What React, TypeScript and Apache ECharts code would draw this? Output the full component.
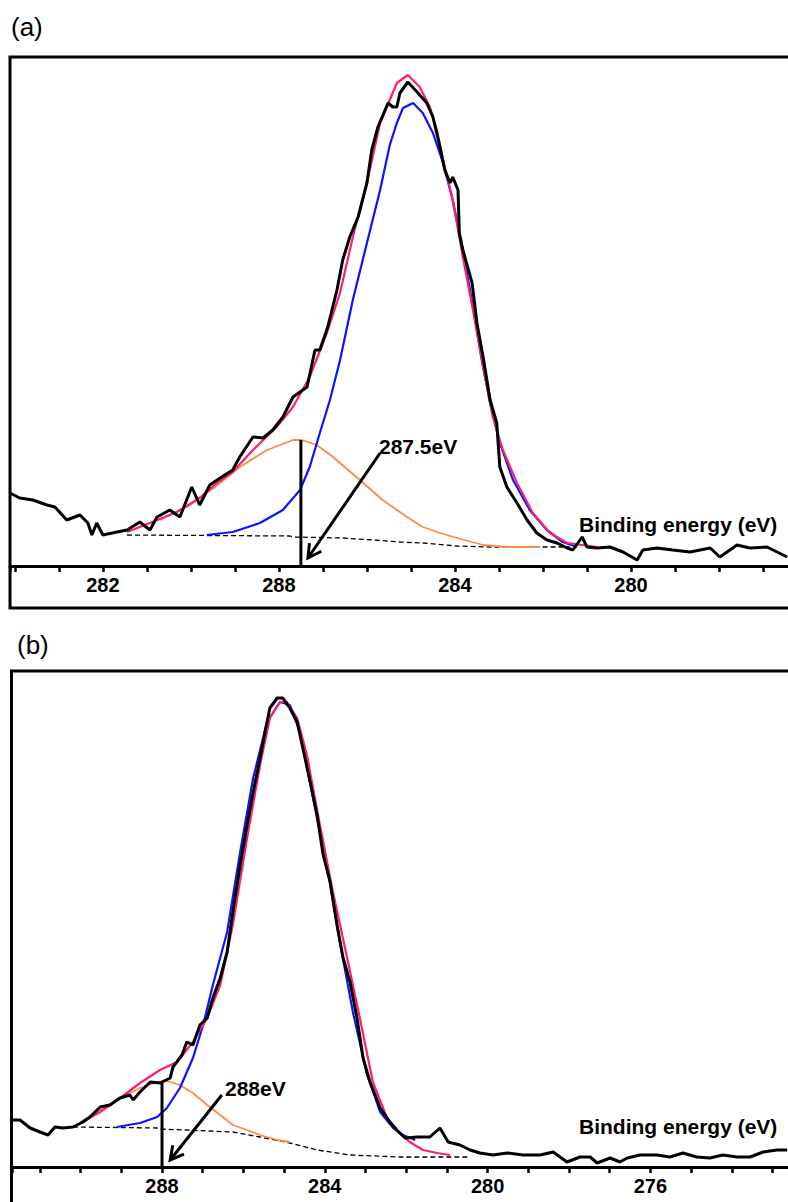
import { useEffect, useRef } from "react";
import * as echarts from "echarts";

// ---------- Panel (a) data : [binding energy (eV), intensity (a.u.)] ----------
const spectrumA: [number, number][] = [
  [294.11, 73], [293.89, 68], [293.59, 66], [293.27, 61], [293.09, 59], [292.82, 46],
  [292.52, 51], [292.34, 43], [292.25, 31], [292.14, 43], [292.0, 31], [291.68, 34],
  [291.45, 36], [291.16, 44], [290.93, 36], [290.77, 49], [290.48, 56], [290.25, 49],
  [289.98, 79], [289.8, 61], [289.57, 81], [289.3, 89], [289.05, 96], [288.89, 109],
  [288.59, 129], [288.36, 128], [288.14, 136], [287.91, 149], [287.68, 169], [287.36, 179],
  [287.18, 216], [287.07, 216], [286.89, 239], [286.68, 276], [286.55, 306], [286.39, 329],
  [286.2, 349], [286.0, 383], [285.89, 416], [285.75, 439], [285.52, 463], [285.41, 459],
  [285.32, 459], [285.25, 473], [285.07, 484], [284.86, 474], [284.64, 463], [284.5, 449],
  [284.34, 419], [284.23, 396], [284.11, 383], [284.05, 389], [283.93, 376], [283.9, 333],
  [283.82, 316], [283.61, 283], [283.5, 243], [283.36, 209], [283.2, 166], [283.05, 143],
  [282.98, 99], [282.82, 79], [282.59, 63], [282.36, 46], [282.14, 33], [281.91, 26],
  [281.68, 23], [281.45, 18], [281.32, 16], [281.11, 29], [281.0, 19], [280.77, 18],
  [280.48, 19], [280.18, 14], [279.86, 6], [279.73, 16], [279.41, 18], [279.05, 16],
  [278.66, 14], [278.2, 18], [277.98, 9], [277.59, 21], [277.3, 18], [276.91, 19],
  [276.68, 14], [276.45, 9],
];
const envelopeA: [number, number][] = [
  [291.45, 34], [290.93, 43], [290.32, 54], [289.8, 68], [289.41, 83], [289.05, 94],
  [288.59, 116], [288.05, 139], [287.68, 159], [287.3, 189], [286.91, 233], [286.61, 273],
  [286.32, 329], [286.0, 383], [285.7, 443], [285.32, 483], [285.07, 491], [284.8, 479],
  [284.57, 459], [284.41, 436], [284.27, 406], [284.05, 366], [283.82, 309], [283.59, 256],
  [283.36, 199], [283.14, 149], [282.91, 116], [282.59, 83], [282.23, 53], [281.84, 33],
  [281.45, 23], [280.77, 19],
];
const mainPeakA: [number, number][] = [
  [289.64, 31], [289.05, 34], [288.43, 43], [287.91, 56], [287.52, 76], [287.3, 99],
  [287.07, 133], [286.84, 166], [286.61, 206], [286.32, 266], [286.0, 323], [285.7, 376],
  [285.48, 421], [285.32, 443], [285.18, 458], [284.95, 463], [284.73, 453], [284.5, 433],
  [284.27, 403], [284.05, 366], [283.82, 316], [283.59, 259], [283.39, 206], [283.2, 163],
  [282.98, 123], [282.68, 86], [282.3, 56], [281.91, 36], [281.55, 24], [281.23, 19],
];
const sidePeakA: [number, number][] = [
  [290.7, 46], [290.02, 61], [289.45, 79], [288.89, 99], [288.27, 116], [287.68, 126],
  [287.48, 126], [287.14, 121], [286.77, 109], [286.16, 86], [285.64, 66], [285.09, 49],
  [284.73, 39], [284.34, 33], [283.95, 28], [283.36, 21], [282.82, 19], [282.07, 19],
];
const baselineA: [number, number][] = [
  [291.45, 31], [287.75, 30], [287.68, 29], [286.55, 28], [285.86, 26], [285.25, 24],
  [284.73, 23], [283.95, 20], [283.2, 19], [282.07, 19], [281.39, 19],
];
const tickValuesA = [292, 288, 284, 280];
const tickLabelsA = ["282", "288", "284", "280"];
const markerA = { energy: 287.5, height: 126, label: "287.5eV" };
const arrowA = [285.7, 113, 287.34, 8];

// ---------- Panel (b) data ----------
const spectrumB: [number, number][] = [
  [291.69, 47], [291.49, 47], [291.24, 39], [291.0, 35], [290.8, 32], [290.63, 40],
  [290.43, 39], [290.19, 40], [289.94, 45], [289.77, 50], [289.52, 60], [289.28, 62],
  [289.03, 69], [288.79, 72], [288.71, 67], [288.54, 75], [288.29, 85], [288.05, 84],
  [287.8, 89], [287.73, 100], [287.51, 112], [287.39, 125], [287.24, 122], [287.07, 142],
  [286.89, 149], [286.75, 169], [286.57, 189], [286.4, 215], [286.26, 255], [286.08, 302],
  [285.91, 342], [285.76, 375], [285.59, 409], [285.47, 435], [285.35, 459], [285.17, 469],
  [285.03, 469], [284.86, 459], [284.68, 445], [284.54, 419], [284.36, 385], [284.19, 352],
  [284.04, 312], [283.87, 285], [283.7, 242], [283.55, 209], [283.38, 185], [283.21, 149],
  [283.06, 109], [282.89, 85], [282.64, 59], [282.4, 45], [282.23, 37], [282.03, 29],
  [281.73, 30], [281.42, 30], [281.17, 39], [280.97, 25], [280.68, 22], [280.43, 17],
  [280.19, 14], [279.87, 12], [279.52, 14], [279.13, 12], [278.71, 12], [278.39, 15],
  [278.05, 5], [277.73, 10], [277.48, 10], [277.31, 4], [276.99, 9], [276.75, 5],
  [276.57, 9], [276.26, 12], [275.84, 12], [275.52, 10], [275.2, 14], [274.86, 10],
  [274.54, 9], [274.22, 12], [273.87, 10], [273.55, 10], [273.23, 15], [272.89, 17],
  [272.64, 17],
];
const envelopeB: [number, number][] = [
  [290.01, 44], [289.52, 55], [289.03, 69], [288.54, 84], [288.05, 97], [287.63, 105],
  [287.24, 125], [286.89, 149], [286.57, 182], [286.26, 242], [285.91, 329], [285.59, 402],
  [285.35, 449], [285.1, 465], [284.93, 465], [284.68, 449], [284.44, 412], [284.12, 342],
  [283.8, 275], [283.45, 209], [283.14, 149], [282.82, 85], [282.47, 49], [282.2, 35],
  [281.91, 25], [281.59, 17], [281.24, 14], [280.92, 12],
];
const mainPeakB: [number, number][] = [
  [289.11, 40], [288.54, 44], [288.12, 50], [287.88, 59], [287.56, 79], [287.24, 109],
  [286.99, 142], [286.75, 182], [286.4, 235], [286.08, 315], [285.76, 389], [285.42, 445],
  [285.1, 465], [284.86, 462], [284.61, 435], [284.29, 369], [283.95, 302], [283.63, 225],
  [283.31, 155], [282.96, 92], [282.64, 55], [282.32, 39], [282.08, 32], [281.78, 27],
];
const sidePeakB: [number, number][] = [
  [290.01, 45], [289.52, 57], [289.03, 69], [288.54, 79], [288.12, 85], [287.88, 86],
  [287.56, 82], [287.24, 74], [286.89, 62], [286.57, 52], [286.26, 42], [285.91, 37],
  [285.59, 32], [285.17, 27], [284.86, 25],
];
const baselineB: [number, number][] = [
  [290.19, 40], [288.12, 39], [288.05, 38], [286.26, 35], [285.59, 30], [284.86, 24],
  [284.19, 17], [283.38, 12], [282.15, 10], [280.43, 10],
];
const tickValuesB = [288, 284, 280, 276];
const tickLabelsB = ["288", "284", "280", "276"];
const markerB = { energy: 288, height: 85, label: "288eV" };
const arrowB = [286.53, 72, 287.8, 7];

const axisTitle = "Binding energy (eV)";
const FONT = '"Liberation Sans", Arial, Helvetica, sans-serif';

const annotRender = (_params: any, api: any) => {
  const p1 = api.coord([api.value(0), api.value(1)]);
  const p2 = api.coord([api.value(2), api.value(3)]);
  const head = api.value(4);
  const children: any[] = [
    {
      type: "line",
      shape: { x1: p1[0], y1: p1[1], x2: p2[0], y2: p2[1] },
      style: { stroke: "#000", lineWidth: 3 },
    },
  ];
  if (head) {
    const ang = Math.atan2(p2[1] - p1[1], p2[0] - p1[0]);
    const L = 15;
    const a = 0.5;
    const pa = [p2[0] - L * Math.cos(ang - a), p2[1] - L * Math.sin(ang - a)];
    const pb = [p2[0] - L * Math.cos(ang + a), p2[1] - L * Math.sin(ang + a)];
    children.push({
      type: "polyline",
      shape: { points: [pa, [p2[0], p2[1]], pb] },
      style: { stroke: "#000", lineWidth: 3, fill: null },
    });
  }
  return { type: "group", children };
};

function xAxisFor(gridIndex: number, min: number, max: number, vals: number[], labels: string[]) {
  return {
    gridIndex,
    type: "value",
    inverse: true,
    min,
    max,
    interval: 1,
    axisLine: { show: true, onZero: false, lineStyle: { color: "#000", width: 3 } },
    axisTick: { show: true, interval: 0, length: 6, lineStyle: { color: "#000", width: 2.5 } },
    axisLabel: {
      interval: 0,
      margin: 9,
      color: "#000",
      fontSize: 20,
      fontWeight: "bold",
      fontFamily: FONT,
      hideOverlap: false,
      formatter: (v: number) => {
        const i = vals.findIndex((t) => Math.abs(t - v) < 1e-6);
        return i >= 0 ? labels[i] : "";
      },
    },
    splitLine: { show: false },
  };
}

function lineSeries(data: [number, number][], idx: number, color: string, width: number, z: number, type: any = "solid") {
  return {
    type: "line",
    xAxisIndex: idx,
    yAxisIndex: idx,
    data,
    symbol: "none",
    showSymbol: false,
    smooth: false,
    z,
    lineStyle: { color, width, type },
    silent: true,
  };
}

export default function App() {
  const ref = useRef<HTMLDivElement>(null);
  useEffect(() => {
    if (!ref.current) return;
    const chart = echarts.init(ref.current, undefined, { renderer: "svg" });
    const RED = "#ff1f70";
    const BLUE = "#0a14ff";
    const ORANGE = "#ff8a45";
    chart.setOption({
      animation: false,
      backgroundColor: "#fff",
      grid: [
        { left: 10, right: -19, top: 57, height: 509, outerBoundsMode: "none", containLabel: false },
        { left: 12, right: -25.2, top: 671, height: 496, outerBoundsMode: "none", containLabel: false },
      ],
      xAxis: [
        xAxisFor(0, 276, 294.11, tickValuesA, tickLabelsA),
        xAxisFor(1, 272, 291.686, tickValuesB, tickLabelsB),
      ],
      yAxis: [
        { gridIndex: 0, type: "value", min: 0, max: 509, show: false },
        { gridIndex: 1, type: "value", min: 0, max: 496, show: false },
      ],
      series: [
        lineSeries(baselineA, 0, "#000", 1.3, 2, [5, 3]),
        lineSeries(sidePeakA, 0, ORANGE, 1.8, 3),
        lineSeries(mainPeakA, 0, BLUE, 2.2, 4),
        lineSeries(envelopeA, 0, RED, 2.2, 5),
        lineSeries(spectrumA, 0, "#000", 3, 6),
        {
          type: "custom",
          xAxisIndex: 0,
          yAxisIndex: 0,
          renderItem: annotRender,
          clip: false,
          z: 7,
          silent: true,
          data: [
            [markerA.energy, 0, markerA.energy, markerA.height, 0],
            [arrowA[0], arrowA[1], arrowA[2], arrowA[3], 1],
          ],
        },
        lineSeries(baselineB, 1, "#000", 1.3, 2, [5, 3]),
        lineSeries(sidePeakB, 1, ORANGE, 1.8, 3),
        lineSeries(mainPeakB, 1, BLUE, 2.2, 4),
        lineSeries(envelopeB, 1, RED, 2.2, 5),
        lineSeries(spectrumB, 1, "#000", 3, 6),
        {
          type: "custom",
          xAxisIndex: 1,
          yAxisIndex: 1,
          renderItem: annotRender,
          clip: false,
          z: 7,
          silent: true,
          data: [
            [markerB.energy, 0, markerB.energy, markerB.height, 0],
            [arrowB[0], arrowB[1], arrowB[2], arrowB[3], 1],
          ],
        },
      ],
      graphic: [
        { type: "rect", shape: { x: 10, y: 57, width: 800, height: 551 }, style: { fill: null, stroke: "#000", lineWidth: 3 }, z: 10, silent: true },
        { type: "rect", shape: { x: 11.5, y: 671, width: 800, height: 560 }, style: { fill: null, stroke: "#000", lineWidth: 3 }, z: 10, silent: true },
        { type: "text", x: 11, y: 27, style: { text: "(a)", font: `26px ${FONT}`, fill: "#000", verticalAlign: "middle" }, z: 10 },
        { type: "text", x: 17, y: 645, style: { text: "(b)", font: `26px ${FONT}`, fill: "#000", verticalAlign: "middle" }, z: 10 },
        { type: "text", x: 579, y: 524, style: { text: axisTitle, font: `bold 21px ${FONT}`, fill: "#000", verticalAlign: "middle" }, z: 10 },
        { type: "text", x: 579, y: 1126, style: { text: axisTitle, font: `bold 21px ${FONT}`, fill: "#000", verticalAlign: "middle" }, z: 10 },
        { type: "text", x: 379, y: 446, style: { text: markerA.label, font: `bold 21px ${FONT}`, fill: "#000", verticalAlign: "middle" }, z: 10 },
        { type: "text", x: 225, y: 1088, style: { text: markerB.label, font: `bold 21px ${FONT}`, fill: "#000", verticalAlign: "middle" }, z: 10 },
      ],
    });
    return () => chart.dispose();
  }, []);
  return (
    <div
      ref={ref}
      style={{ position: "fixed", left: 0, top: 0, width: 788, height: 1202, background: "#fff" }}
    />
  );
}
